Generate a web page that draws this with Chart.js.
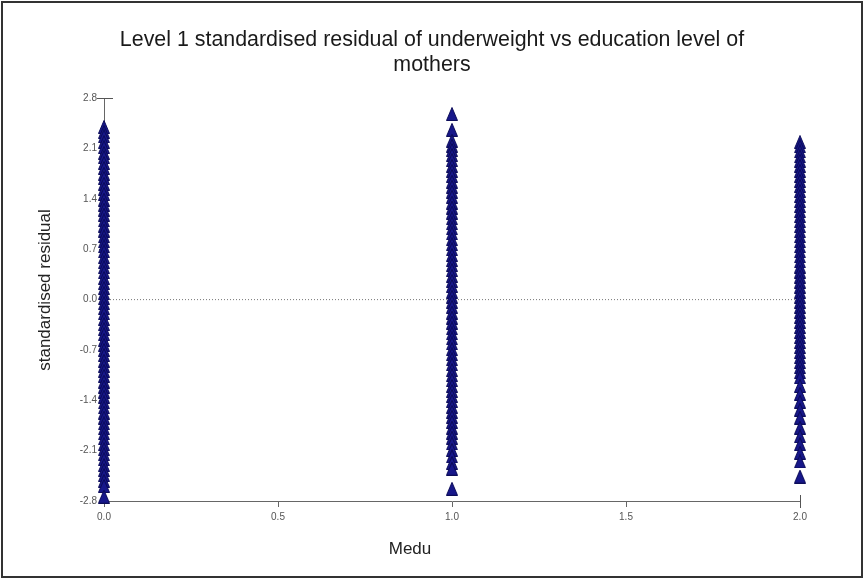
<!DOCTYPE html>
<html lang="en">
  <head>
    <meta charset="utf-8" />
    <title>Level 1 standardised residual vs Medu</title>
    <script src="https://cdn.jsdelivr.net/npm/chart.js"></script>
    <style>
      body { margin: 0; background: #fff; }
      canvas { display: block; }
    </style>
  </head>
  <body>
    <canvas id="myChart" width="864" height="579"></canvas>
    <script>
      // data
      const titleLines = ["Level 1 standardised residual of underweight vs education level of", "mothers"];
      const xLabel = "Medu";
      const yLabel = "standardised residual";
      const meduLevels = [0, 1, 2];
      const xTicks = [0, 0.5, 1, 1.5, 2];
      const yTicks = [-2.8, -2.1, -1.4, -0.7, 0, 0.7, 1.4, 2.1, 2.8];

      // residuals for Medu = 0
      const resid0 = [2.40, 2.33, 2.27, 2.19, 2.12, 2.04, 1.98, 1.90, 1.83, 1.75, 1.69, 1.61, 1.54, 1.47,
        1.39, 1.32, 1.25, 1.18, 1.10, 1.03, 0.96, 0.88, 0.81, 0.74, 0.67, 0.59, 0.52, 0.45, 0.38, 0.30,
        0.23, 0.16, 0.09, 0.02, -0.05, -0.12, -0.19, -0.27, -0.34, -0.41, -0.48, -0.56, -0.63, -0.70,
        -0.77, -0.85, -0.92, -0.99, -1.06, -1.14, -1.21, -1.28, -1.35, -1.43, -1.50, -1.57, -1.64, -1.72,
        -1.79, -1.86, -1.93, -2.01, -2.08, -2.15, -2.22, -2.30, -2.37, -2.44, -2.52, -2.59, -2.74];
      // residuals for Medu = 1
      const resid1 = [2.58, 2.36, 2.21, 2.14, 2.08, 2.01, 1.94, 1.86, 1.79, 1.72, 1.64, 1.57, 1.50, 1.43,
        1.35, 1.28, 1.21, 1.13, 1.06, 0.99, 0.92, 0.84, 0.77, 0.70, 0.62, 0.55, 0.48, 0.41, 0.33, 0.26,
        0.19, 0.11, 0.04, -0.03, -0.10, -0.18, -0.25, -0.32, -0.40, -0.47, -0.54, -0.61, -0.69, -0.76,
        -0.83, -0.90, -0.98, -1.05, -1.12, -1.20, -1.27, -1.34, -1.41, -1.49, -1.56, -1.63, -1.70, -1.78,
        -1.85, -1.92, -2.00, -2.09, -2.18, -2.27, -2.35, -2.63];
      // residuals for Medu = 2
      const resid2 = [2.19, 2.13, 2.06, 1.99, 1.93, 1.86, 1.79, 1.72, 1.65, 1.58, 1.51, 1.44, 1.37, 1.30,
        1.23, 1.16, 1.09, 1.02, 0.95, 0.88, 0.81, 0.74, 0.67, 0.60, 0.53, 0.46, 0.39, 0.32, 0.25, 0.18,
        0.11, 0.04, -0.03, -0.10, -0.17, -0.24, -0.31, -0.38, -0.45, -0.52, -0.59, -0.66, -0.73, -0.80,
        -0.87, -0.94, -1.01, -1.08, -1.20, -1.31, -1.42, -1.53, -1.64, -1.78, -1.90, -2.01, -2.13, -2.25,
        -2.46];
      const zeroLine = [0, 0];

      const FONT = "'Liberation Sans', Arial, sans-serif";

      const points = [
        ...resid0.map(v => ({ x: meduLevels[0], y: v })),
        ...resid1.map(v => ({ x: meduLevels[1], y: v })),
        ...resid2.map(v => ({ x: meduLevels[2], y: v }))
      ];

      // triangle marker, a bit taller than wide like the original
      const marker = document.createElement('canvas');
      marker.width = 12;
      marker.height = 14;
      (function () {
        const c = marker.getContext('2d');
        c.beginPath();
        c.moveTo(6, 0.5);
        c.lineTo(11.5, 13.5);
        c.lineTo(0.5, 13.5);
        c.closePath();
        c.fillStyle = '#17178a';
        c.fill();
        c.strokeStyle = '#0c0c58';
        c.lineWidth = 1;
        c.stroke();
      })();

      // frame, axis titles and axis end caps
      const frame = {
        id: 'frame',
        beforeDraw(chart) {
          const ctx = chart.ctx;
          ctx.save();
          ctx.fillStyle = '#fff';
          ctx.fillRect(0, 0, chart.width, chart.height);
          ctx.restore();
        },
        afterDraw(chart) {
          const ctx = chart.ctx;
          const xs = chart.scales.x, ys = chart.scales.y;
          ctx.save();
          ctx.strokeStyle = '#333';
          ctx.lineWidth = 2;
          ctx.strokeRect(2, 2, chart.width - 4, chart.height - 4);

          // end caps
          ctx.strokeStyle = '#555';
          ctx.lineWidth = 1;
          const topY = Math.round(ys.getPixelForValue(yTicks[yTicks.length - 1])) + 0.5;
          const axX = xs.getPixelForValue(xTicks[0]);
          ctx.beginPath();
          ctx.moveTo(axX - 7, topY);
          ctx.lineTo(axX + 9, topY);
          const endX = Math.round(xs.getPixelForValue(xTicks[xTicks.length - 1])) + 0.5;
          const axY = ys.getPixelForValue(yTicks[0]);
          ctx.moveTo(endX, axY - 6);
          ctx.lineTo(endX, axY + 7);
          ctx.stroke();

          // axis titles
          ctx.fillStyle = '#222';
          ctx.font = '17px ' + FONT;
          ctx.textAlign = 'center';
          ctx.textBaseline = 'middle';
          ctx.fillText(xLabel, 410, 549);
          ctx.translate(45, 290);
          ctx.rotate(-Math.PI / 2);
          ctx.fillText(yLabel, 0, 0);
          ctx.restore();
        }
      };

      const config = {
        type: 'scatter',
        data: {
          datasets: [
            {
              label: 'zero',
              data: zeroLine.map((v, i) => ({ x: xTicks[i === 0 ? 0 : xTicks.length - 1], y: v })),
              showLine: true,
              borderColor: '#777',
              borderWidth: 1,
              borderDash: [1, 2],
              pointRadius: 0,
              order: 2
            },
            {
              label: 'residual',
              data: points,
              pointStyle: marker,
              pointRadius: 7,
              clip: false,
              order: 1
            }
          ]
        },
        options: {
          responsive: false,
          animation: false,
          devicePixelRatio: 1,
          layout: { padding: 0 },
          plugins: {
            legend: { display: false },
            tooltip: { enabled: false },
            title: {
              display: true,
              text: titleLines,
              color: '#1a1a1a',
              font: { family: FONT, size: 21.4, weight: 'normal', lineHeight: 1.15 },
              padding: { top: 28, bottom: 21 }
            }
          },
          scales: {
            x: {
              type: 'linear',
              min: xTicks[0],
              max: xTicks[xTicks.length - 1],
              afterBuildTicks: s => { s.ticks = xTicks.map(v => ({ value: v })); },
              afterFit: s => { s.height = 78; },
              ticks: {
                callback: v => v.toFixed(1),
                color: '#555',
                font: { family: FONT, size: 10 },
                padding: 4,
                maxRotation: 0
              },
              grid: { drawOnChartArea: false, drawTicks: true, tickLength: 6, color: '#666' },
              border: { display: true, color: '#666', width: 1 }
            },
            y: {
              min: yTicks[0],
              max: yTicks[yTicks.length - 1],
              afterBuildTicks: s => { s.ticks = yTicks.map(v => ({ value: v })); },
              afterFit: s => { s.width = 104; },
              ticks: {
                callback: v => v.toFixed(1),
                color: '#555',
                font: { family: FONT, size: 10 },
                padding: 2
              },
              grid: { drawOnChartArea: false, drawTicks: true, tickLength: 5, color: '#666' },
              border: { display: true, color: '#666', width: 1 }
            },
            // empty right margin so the title stays centred on the page
            yRight: {
              position: 'right',
              min: yTicks[0],
              max: yTicks[yTicks.length - 1],
              afterFit: s => { s.width = 64; },
              ticks: { display: false },
              grid: { display: false },
              border: { display: false }
            }
          }
        },
        plugins: [frame]
      };

      const myChart = new Chart(document.getElementById('myChart'), config);
    </script>
  </body>
</html>
